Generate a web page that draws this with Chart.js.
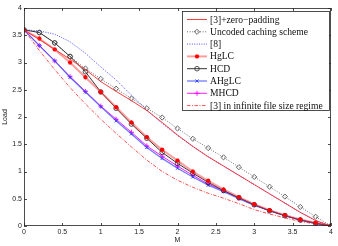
<!DOCTYPE html>
<html><head><meta charset="utf-8">
<script src="https://cdn.jsdelivr.net/npm/chart.js@4/dist/chart.umd.min.js"></script>
<style>html,body{margin:0;padding:0;background:#fff}#wrap{width:338px;height:246px}</style>
</head><body><div id="wrap"><canvas id="c" width="338" height="246"></canvas></div>
<script>
// Cache size M
const M = [0,0.2,0.4,0.6,0.8,1.0,1.2,1.4,1.6,1.8,2.0,2.2,2.4,2.6,2.8,3.0,3.2,3.4,3.6,3.8,4.0];
const zeroPadding = [3.60,3.42,3.24,3.06,2.87,2.65,2.47,2.30,2.12,1.90,1.67,1.46,1.27,1.10,0.93,0.76,0.59,0.42,0.25,0.10,0];
const uncoded     = [3.60,3.55,3.36,3.11,2.89,2.70,2.52,2.34,2.16,1.99,1.79,1.60,1.43,1.26,1.08,0.90,0.72,0.54,0.35,0.17,0];
const ref8        = [3.60,3.58,3.52,3.38,3.17,2.92,2.68,2.40,2.13,1.88,1.66,1.46,1.27,1.10,0.93,0.76,0.59,0.42,0.25,0.10,0];
const hglc        = [3.60,3.44,3.24,3.00,2.73,2.46,2.18,1.90,1.63,1.40,1.20,1.00,0.83,0.67,0.53,0.40,0.29,0.20,0.12,0.06,0];
const hcd         = [3.60,3.55,3.36,3.11,2.83,2.46,2.16,1.87,1.61,1.35,1.15,0.97,0.80,0.65,0.52,0.39,0.28,0.19,0.11,0.05,0];
const ahglc       = [3.60,3.31,3.03,2.73,2.46,2.19,1.93,1.69,1.44,1.24,1.06,0.90,0.75,0.63,0.50,0.38,0.28,0.19,0.11,0.05,0];
const mhcd        = [3.60,3.31,3.03,2.74,2.47,2.20,1.96,1.72,1.47,1.28,1.10,0.93,0.77,0.65,0.51,0.39,0.28,0.19,0.11,0.05,0];
const infinite    = [3.60,3.22,2.87,2.54,2.24,1.96,1.70,1.45,1.21,1.00,0.84,0.71,0.60,0.51,0.41,0.30,0.22,0.15,0.08,0.04,0];
const seriesNames = ['[3]+zero\u2212padding','Uncoded caching scheme','[8]','HgLC','HCD','AHgLC','MHCD','[3] in infinite file size regime'];
const xTicks = [0,0.5,1,1.5,2,2.5,3,3.5,4];
const yTicks = [0,0.5,1,1.5,2,2.5,3,3.5,4];

const pts = arr => arr.map((v,i)=>({x:M[i], y:v}));

const styles = [
  {borderColor:'rgb(255,40,40)', borderWidth:0.9, pointRadius:0},
  {borderColor:'rgba(60,60,60,0.85)', borderWidth:0.9, borderDash:[1,1.6], pointStyle:'rectRot', pointRadius:2.6, pointBorderColor:'rgb(70,70,70)', pointBackgroundColor:'rgba(0,0,0,0)', pointBorderWidth:0.8},
  {borderColor:'rgb(60,60,255)', borderWidth:0.9, borderDash:[1,1.4], pointRadius:0},
  {borderColor:'rgba(255,60,60,0.5)', borderWidth:2, pointStyle:'star', pointRadius:2.2, pointBorderColor:'rgb(255,0,0)', pointBackgroundColor:'rgb(255,0,0)', pointBorderWidth:1.2},
  {borderColor:'rgb(30,30,30)', borderWidth:0.9, pointStyle:'circle', pointRadius:2.3, pointBorderColor:'rgb(40,40,40)', pointBackgroundColor:'rgba(0,0,0,0)', pointBorderWidth:0.8},
  {borderColor:'rgba(60,80,255,0.75)', borderWidth:1.3, pointStyle:'crossRot', pointRadius:2.2, pointBorderColor:'rgb(40,60,255)', pointBorderWidth:0.9},
  {borderColor:'rgb(255,0,255)', borderWidth:0.9, pointStyle:'cross', pointRadius:2.5, pointBorderColor:'rgb(255,0,255)', pointBorderWidth:0.9},
  {borderColor:'rgb(255,60,60)', borderWidth:0.9, borderDash:[3.5,1.5,1,1.5], pointRadius:0}
];
const series = [zeroPadding, uncoded, ref8, hglc, hcd, ahglc, mhcd, infinite];

const datasets = series.map((s,i)=>Object.assign({label:seriesNames[i], data:pts(s), fill:false, tension:0, order:i}, styles[i]));

const boxPlugin = {
  id:'box',
  afterDatasetsDraw(chart){
    const {ctx, chartArea:a, scales:{x,y}} = chart;
    ctx.save();
    ctx.strokeStyle = '#222';
    ctx.lineWidth = 0.8;
    ctx.strokeRect(a.left+0.5, a.top+0.5, a.right-a.left-1, a.bottom-a.top-1);
    ctx.beginPath();
    const tl = 3;
    xTicks.forEach(v=>{ const p = Math.round(x.getPixelForValue(v))+0.5;
      ctx.moveTo(p,a.bottom); ctx.lineTo(p,a.bottom-tl); ctx.moveTo(p,a.top); ctx.lineTo(p,a.top+tl); });
    yTicks.forEach(v=>{ const p = Math.round(y.getPixelForValue(v))+0.5;
      ctx.moveTo(a.left,p); ctx.lineTo(a.left+tl,p); ctx.moveTo(a.right,p); ctx.lineTo(a.right-tl,p); });
    ctx.stroke();
    ctx.restore();
  },
  afterDraw(chart){
    const ctx = chart.ctx;
    const L = 182.5, T = 11.5, W = 147, H = 99;
    ctx.save();
    ctx.fillStyle = '#fff';
    ctx.fillRect(L, T, W, H);
    ctx.strokeStyle = '#222'; ctx.lineWidth = 0.8;
    ctx.strokeRect(L, T, W, H);
    chart.data.datasets.forEach((ds,i)=>{
      const yy = 19.5 + i*12.3;
      ctx.save();
      ctx.strokeStyle = ds.borderColor; ctx.lineWidth = ds.borderWidth;
      ctx.setLineDash(ds.borderDash || []);
      ctx.beginPath(); ctx.moveTo(187, yy); ctx.lineTo(207, yy); ctx.stroke();
      ctx.restore();
      if (ds.pointRadius > 0) {
        ctx.save();
        ctx.strokeStyle = ds.pointBorderColor; ctx.fillStyle = ds.pointBackgroundColor || 'rgba(0,0,0,0)';
        ctx.lineWidth = ds.pointBorderWidth;
        Chart.helpers.drawPoint(ctx, {pointStyle: ds.pointStyle, radius: ds.pointRadius, rotation:0, borderWidth: ds.pointBorderWidth}, 197, yy);
        ctx.restore();
      }
      ctx.fillStyle = '#111';
      ctx.font = '9.6px "Liberation Serif", "DejaVu Serif", serif';
      ctx.textBaseline = 'middle';
      ctx.fillText(ds.label, 210, yy+0.5);
    });
    ctx.restore();
  }
};

const fmt = v => String(v);

new Chart(document.getElementById('c'), {
  type:'line',
  data:{datasets},
  options:{
    responsive:false, animation:false, devicePixelRatio:1,
    layout:{padding:{top:8, right:7, left:0, bottom:0}},
    plugins:{legend:{display:false}, tooltip:{enabled:false}},
    elements:{line:{tension:0}},
    scales:{
      x:{type:'linear', min:0, max:4,
        afterBuildTicks: s => { s.ticks = xTicks.map(v=>({value:v})); },
        afterFit: s => { s.height = 20; },
        grid:{display:false, drawTicks:false}, border:{display:false},
        ticks:{padding:2, color:'#222', font:{family:'"Liberation Sans", Arial, sans-serif', size:7}, maxRotation:0, callback:fmt},
        title:{display:true, text:'M', color:'#222', font:{family:'"Liberation Sans", Arial, sans-serif', size:7}, padding:{top:0,bottom:2}}
      },
      y:{type:'linear', min:0, max:4,
        afterBuildTicks: s => { s.ticks = yTicks.map(v=>({value:v})); },
        afterFit: s => { s.width = 24; },
        grid:{display:false, drawTicks:false}, border:{display:false},
        ticks:{padding:2, color:'#222', font:{family:'"Liberation Sans", Arial, sans-serif', size:7}, callback:fmt},
        title:{display:true, text:'Load', color:'#222', font:{family:'"Liberation Sans", Arial, sans-serif', size:7}, padding:{top:1,bottom:0}}
      }
    }
  },
  plugins:[boxPlugin]
});
</script></body></html>
